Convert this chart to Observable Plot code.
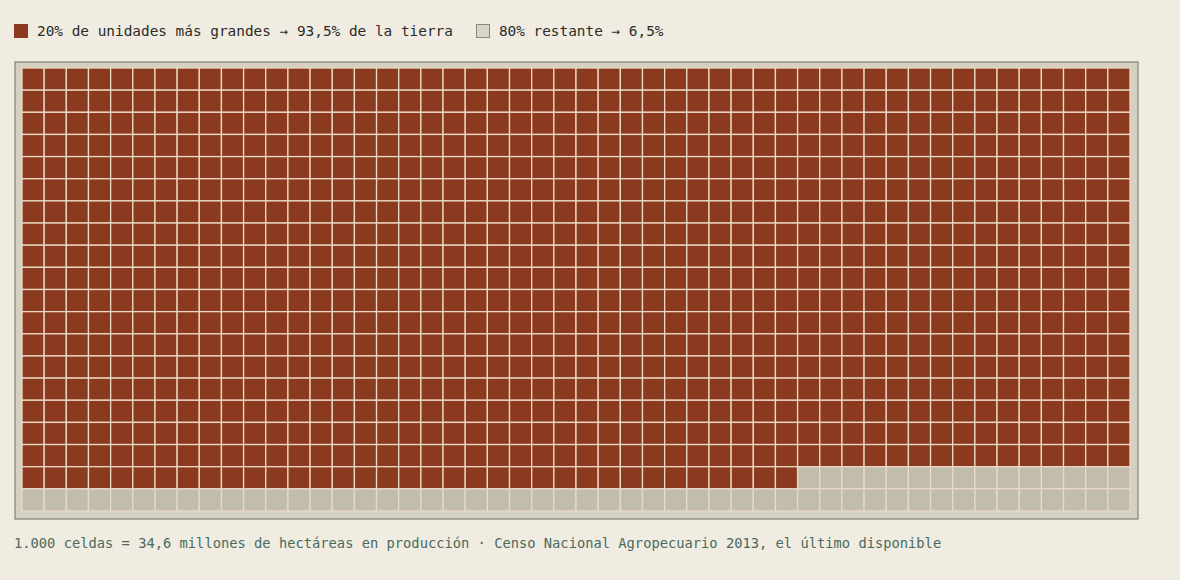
<!DOCTYPE html>
<html>
<head>
<meta charset="utf-8">
<script src="https://cdn.jsdelivr.net/npm/d3@7"></script>
<script src="https://cdn.jsdelivr.net/npm/@observablehq/plot@0.6"></script>
<style>
  html, body { margin: 0; padding: 0; background: #f0ece1; }
  body { padding: 22px 14px 0 14px; font-family: "DejaVu Sans Mono", monospace; }
  #legend { height: 18px; line-height: 18px; margin-bottom: 21px; color: #2b2b28; display: flex; align-items: center; white-space: pre; font-size: 14.4px; }
  .sw { display: inline-block; width: 14px; height: 14px; box-sizing: border-box; margin-right: 9px; }
  .item { display: inline-flex; align-items: center; margin-right: 23px; }
  #chart svg { display: block; }
  #caption { margin-top: 15px; line-height: 18px; color: #4a6a5c; white-space: pre; font-size: 13.75px; }
</style>
</head>
<body>
<div id="legend"></div>
<div id="chart"></div>
<div id="caption"></div>
<script>
const groups = ["20% de unidades más grandes → 93,5% de la tierra", "80% restante → 6,5%"];
const cellCounts = [935, 65];
const groupColors = ["#8b3a1f", "#c2bcac"];
const legendSwatch = ["#8b3a1f", "#d9d5ca"];
const nCols = 50;
const nRows = 20;
const captionText = "1.000 celdas = 34,6 millones de hectáreas en producción · Censo Nacional Agropecuario 2013, el último disponible";

// legend
const legend = document.getElementById("legend");
groups.forEach((g, i) => {
  const item = document.createElement("span");
  item.className = "item";
  const sw = document.createElement("span");
  sw.className = "sw";
  sw.style.background = legendSwatch[i];
  if (i === 1) sw.style.border = "1px solid #8a8678";
  item.appendChild(sw);
  item.appendChild(document.createTextNode(g));
  legend.appendChild(item);
});

// cells
const cells = [];
let idx = 0;
cellCounts.forEach((n, gi) => {
  for (let k = 0; k < n; k++, idx++) {
    cells.push({col: idx % nCols, row: Math.floor(idx / nCols), group: groups[gi]});
  }
});

const chart = Plot.plot({
  width: 1124,
  height: 458,
  margin: 0.5,
  x: {type: "band", domain: d3.range(nCols), padding: 0, round: false, insetLeft: 7.5, insetRight: 7.5, axis: null},
  y: {type: "band", domain: d3.range(nRows), padding: 0, round: false, insetTop: 6.5, insetBottom: 7.5, axis: null},
  color: {domain: groups, range: groupColors},
  style: {background: "transparent", overflow: "visible"},
  marks: [
    Plot.frame({fill: "#d5d0c1", stroke: "#6f6e64", strokeWidth: 1}),
    Plot.cell(cells, {x: "col", y: "row", fill: "group", inset: 0, stroke: "#ead9c4", strokeWidth: 1.3})
  ]
});
document.getElementById("chart").appendChild(chart);
document.getElementById("caption").textContent = captionText;
</script>
</body>
</html>
